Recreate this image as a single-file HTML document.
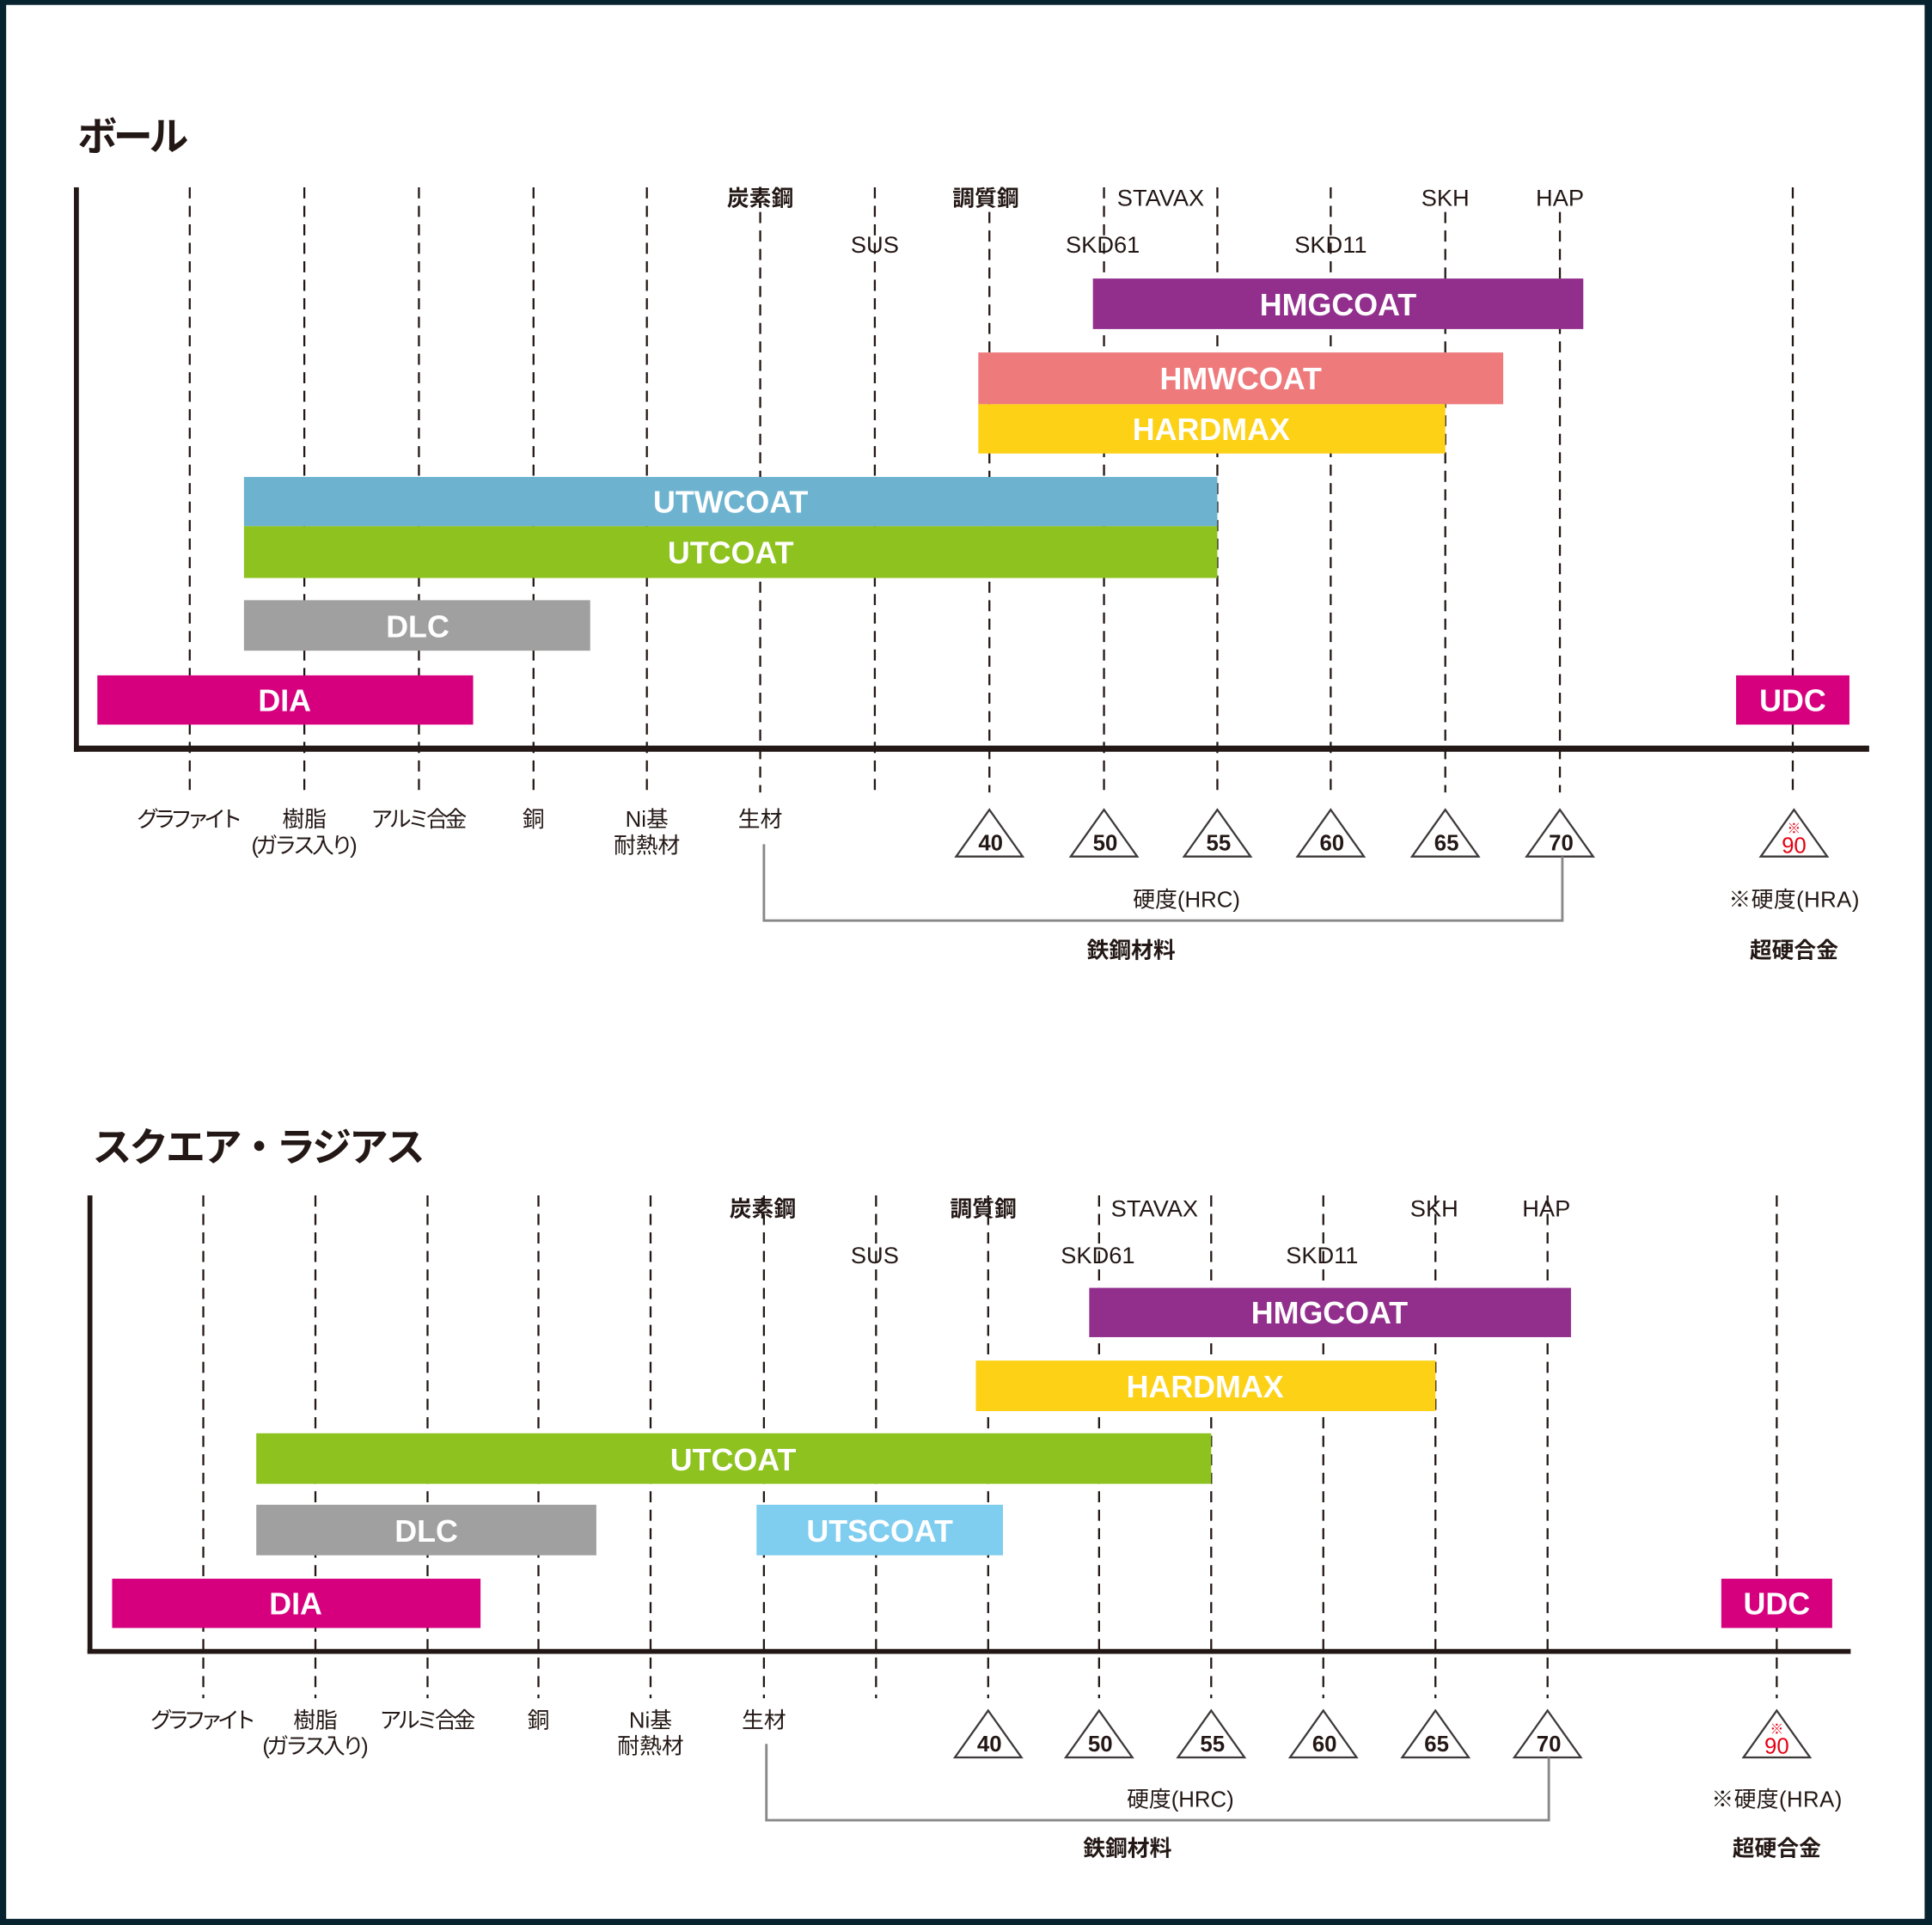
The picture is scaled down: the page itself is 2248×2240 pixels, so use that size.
<!DOCTYPE html>
<html><head><meta charset="utf-8"><style>
html,body{margin:0;padding:0;background:#07232f;}
svg{display:block}
text{font-family:"Liberation Sans","Noto Sans CJK JP",sans-serif;}
.t{font-size:32px;font-weight:bold;fill:#231815}
.l{font-size:19px;fill:#231815;text-anchor:middle}
.lb{font-size:18px;fill:#231815;text-anchor:middle;font-weight:bold}
.b{font-size:25px;fill:#fff;text-anchor:middle;font-weight:bold}
.n{font-size:18px;fill:#231815;text-anchor:middle}
.nn{font-size:18px;fill:#231815;text-anchor:middle;font-weight:bold}
.d{stroke:#231815;stroke-width:1.6;stroke-dasharray:9,6}
.tri{fill:#fff;stroke:#3e3a39;stroke-width:1.6}
.br{fill:none;stroke:#888;stroke-width:2}
</style></head><body>
<svg width="2248" height="2240" viewBox="0 0 1568 1562" preserveAspectRatio="none" xmlns="http://www.w3.org/2000/svg">
<rect x="0" y="0" width="1568" height="1562" fill="#07232f"/>
<rect x="5" y="4" width="1557" height="1553" fill="#fff"/>

<!-- Chart 1 -->
<text class="t" x="63" y="122" textLength="90">ボール</text>
<g class="d">
<line x1="154" y1="152" x2="154" y2="643"/><line x1="247" y1="152" x2="247" y2="643"/>
<line x1="340" y1="152" x2="340" y2="643"/><line x1="433" y1="152" x2="433" y2="643"/>
<line x1="525" y1="152" x2="525" y2="643"/><line x1="617" y1="172" x2="617" y2="643"/>
<line x1="710" y1="152" x2="710" y2="643"/><line x1="803" y1="172" x2="803" y2="643"/>
<line x1="896" y1="152" x2="896" y2="643"/><line x1="988" y1="152" x2="988" y2="643"/>
<line x1="1080" y1="152" x2="1080" y2="643"/><line x1="1173" y1="172" x2="1173" y2="643"/>
<line x1="1266" y1="172" x2="1266" y2="643"/><line x1="1455" y1="152" x2="1455" y2="643"/>
</g>
<rect x="60" y="152" width="4" height="458" fill="#231815"/>
<rect x="60" y="605" width="1457" height="5" fill="#231815"/>
<text class="lb" x="617" y="167">炭素鋼</text>
<text class="lb" x="800" y="167">調質鋼</text>
<text class="l" x="942" y="167">STAVAX</text>
<text class="l" x="1173" y="167">SKH</text>
<text class="l" x="1266" y="167">HAP</text>
<text class="l" x="710" y="205">SUS</text>
<text class="l" x="895" y="205">SKD61</text>
<text class="l" x="1080" y="205">SKD11</text>

<rect x="887" y="226" width="398" height="41" fill="#922f8d"/><text class="b" x="1086" y="256">HMGCOAT</text>
<rect x="794" y="286" width="426" height="42" fill="#ee7a7c"/><text class="b" x="1007" y="316">HMWCOAT</text>
<rect x="794" y="328" width="379" height="40" fill="#fcd116"/><text class="b" x="983" y="357">HARDMAX</text>
<rect x="198" y="387" width="790" height="40" fill="#6db3d0"/><text class="b" x="593" y="416">UTWCOAT</text>
<rect x="198" y="427" width="790" height="42" fill="#8dc21f"/><text class="b" x="593" y="457">UTCOAT</text>
<rect x="198" y="487" width="281" height="41" fill="#a0a0a0"/><text class="b" x="339" y="517">DLC</text>
<rect x="79" y="548" width="305" height="40" fill="#d6007f"/><text class="b" x="231" y="577">DIA</text>
<rect x="1409" y="548" width="92" height="40" fill="#d6007f"/><text class="b" x="1455" y="577">UDC</text>

<text class="n" x="154" y="671" textLength="86">グラファイト</text>
<text class="n" x="247" y="671">樹脂</text><text class="n" x="247" y="692" textLength="86">(ガラス入り)</text>
<text class="n" x="340" y="671" textLength="78">アルミ合金</text>
<text class="n" x="433" y="671">銅</text>
<text class="n" x="525" y="671">Ni基</text><text class="n" x="525" y="692">耐熱材</text>
<text class="n" x="617" y="671">生材</text>
<g>
<polygon class="tri" points="803,657 776,695 830,695"/><text class="nn" x="804" y="690">40</text>
<polygon class="tri" points="896,657 869,695 923,695"/><text class="nn" x="897" y="690">50</text>
<polygon class="tri" points="988,657 961,695 1015,695"/><text class="nn" x="989" y="690">55</text>
<polygon class="tri" points="1080,657 1053,695 1107,695"/><text class="nn" x="1081" y="690">60</text>
<polygon class="tri" points="1173,657 1146,695 1200,695"/><text class="nn" x="1174" y="690">65</text>
<polygon class="tri" points="1266,657 1239,695 1293,695"/><text class="nn" x="1267" y="690">70</text>
<polygon class="tri" points="1456,657 1429,695 1483,695"/><text x="1456" y="676" style="font-size:11px;fill:#e60012;text-anchor:middle">※</text><text x="1456" y="692" style="font-size:18px;fill:#e60012;text-anchor:middle">90</text>
</g>
<polyline class="br" points="620,685 620,747 1268,747 1268,695"/>
<text class="n" x="963" y="736">硬度(HRC)</text>
<text class="n" x="1456" y="736" textLength="106">※硬度(HRA)</text>
<text class="lb" x="918" y="777" textLength="72">鉄鋼材料</text>
<text class="lb" x="1456" y="777">超硬合金</text>

<!-- Chart 2 -->
<text class="t" x="75" y="942" textLength="270">スクエア・ラジアス</text>
<g class="d">
<line x1="165" y1="970" x2="165" y2="1378"/><line x1="256" y1="970" x2="256" y2="1378"/>
<line x1="347" y1="970" x2="347" y2="1378"/><line x1="437" y1="970" x2="437" y2="1378"/>
<line x1="528" y1="970" x2="528" y2="1378"/><line x1="620" y1="970" x2="620" y2="1378"/>
<line x1="711" y1="970" x2="711" y2="1378"/><line x1="802" y1="970" x2="802" y2="1378"/>
<line x1="892" y1="970" x2="892" y2="1378"/><line x1="983" y1="970" x2="983" y2="1378"/>
<line x1="1074" y1="970" x2="1074" y2="1378"/><line x1="1165" y1="970" x2="1165" y2="1378"/>
<line x1="1256" y1="970" x2="1256" y2="1378"/><line x1="1442" y1="970" x2="1442" y2="1378"/>
</g>
<rect x="71" y="970" width="4" height="372" fill="#231815"/>
<rect x="71" y="1338" width="1431" height="4" fill="#231815"/>
<text class="lb" x="619" y="987">炭素鋼</text>
<text class="lb" x="798" y="987">調質鋼</text>
<text class="l" x="937" y="987">STAVAX</text>
<text class="l" x="1164" y="987">SKH</text>
<text class="l" x="1255" y="987">HAP</text>
<text class="l" x="710" y="1025">SUS</text>
<text class="l" x="891" y="1025">SKD61</text>
<text class="l" x="1073" y="1025">SKD11</text>

<rect x="884" y="1045" width="391" height="40" fill="#922f8d"/><text class="b" x="1079" y="1074">HMGCOAT</text>
<rect x="792" y="1104" width="373" height="41" fill="#fcd116"/><text class="b" x="978" y="1134">HARDMAX</text>
<rect x="208" y="1163" width="775" height="41" fill="#8dc21f"/><text class="b" x="595" y="1193">UTCOAT</text>
<rect x="208" y="1221" width="276" height="41" fill="#a0a0a0"/><text class="b" x="346" y="1251">DLC</text>
<rect x="614" y="1221" width="200" height="41" fill="#7fcdef"/><text class="b" x="714" y="1251">UTSCOAT</text>
<rect x="91" y="1281" width="299" height="40" fill="#d6007f"/><text class="b" x="240" y="1310">DIA</text>
<rect x="1397" y="1281" width="90" height="40" fill="#d6007f"/><text class="b" x="1442" y="1310">UDC</text>

<text class="n" x="165" y="1402" textLength="86">グラファイト</text>
<text class="n" x="256" y="1402">樹脂</text><text class="n" x="256" y="1423" textLength="86">(ガラス入り)</text>
<text class="n" x="347" y="1402" textLength="78">アルミ合金</text>
<text class="n" x="437" y="1402">銅</text>
<text class="n" x="528" y="1402">Ni基</text><text class="n" x="528" y="1423">耐熱材</text>
<text class="n" x="620" y="1402">生材</text>
<g>
<polygon class="tri" points="802,1388 775,1426 829,1426"/><text class="nn" x="803" y="1421">40</text>
<polygon class="tri" points="892,1388 865,1426 919,1426"/><text class="nn" x="893" y="1421">50</text>
<polygon class="tri" points="983,1388 956,1426 1010,1426"/><text class="nn" x="984" y="1421">55</text>
<polygon class="tri" points="1074,1388 1047,1426 1101,1426"/><text class="nn" x="1075" y="1421">60</text>
<polygon class="tri" points="1165,1388 1138,1426 1192,1426"/><text class="nn" x="1166" y="1421">65</text>
<polygon class="tri" points="1256,1388 1229,1426 1283,1426"/><text class="nn" x="1257" y="1421">70</text>
<polygon class="tri" points="1442,1388 1415,1426 1469,1426"/><text x="1442" y="1407" style="font-size:11px;fill:#e60012;text-anchor:middle">※</text><text x="1442" y="1423" style="font-size:18px;fill:#e60012;text-anchor:middle">90</text>
</g>
<polyline class="br" points="622,1415 622,1477 1257,1477 1257,1426"/>
<text class="n" x="958" y="1466">硬度(HRC)</text>
<text class="n" x="1442" y="1466" textLength="106">※硬度(HRA)</text>
<text class="lb" x="915" y="1506" textLength="72">鉄鋼材料</text>
<text class="lb" x="1442" y="1506">超硬合金</text>
</svg>
</body></html>
